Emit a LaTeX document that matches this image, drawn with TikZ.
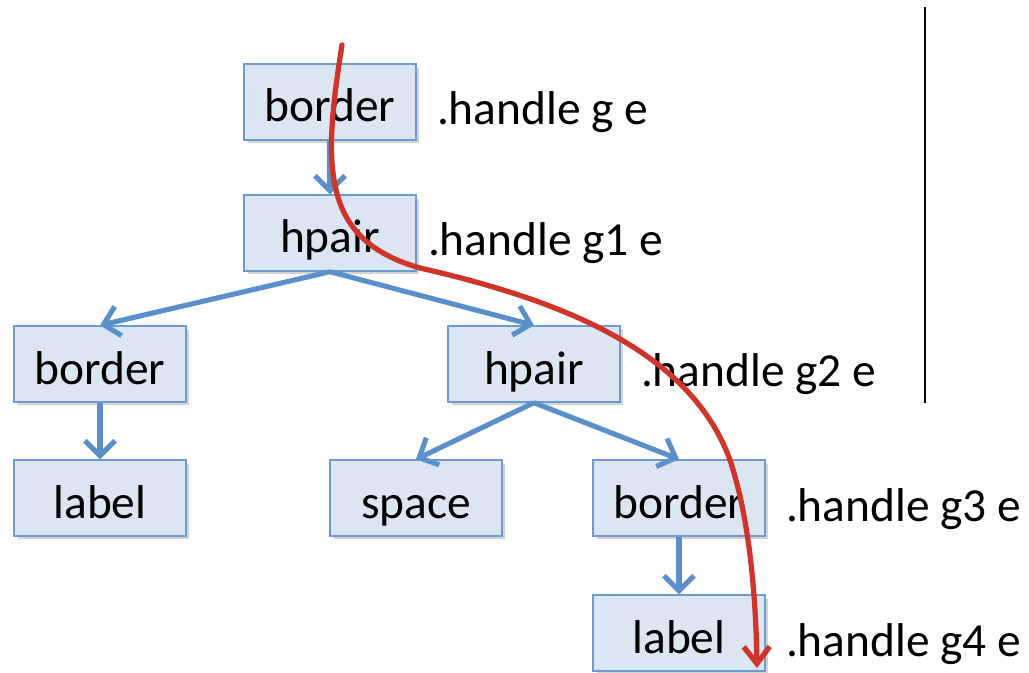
\documentclass[tikz,border=0pt]{standalone}
\usepackage{fontspec}
\setmainfont{Carlito}
\usetikzlibrary{arrows.meta,positioning,shadows}
\definecolor{boxfill}{HTML}{DCE6F2}
\definecolor{boxline}{HTML}{6C9BD2}
\definecolor{treeblue}{HTML}{5B8FC9}
\definecolor{tracered}{HTML}{D0352B}

\begin{document}
\begin{tikzpicture}[x=0.02cm, y=-0.02cm,
  font=\fontsize{27}{31}\selectfont,
  box/.style={draw=boxline, fill=boxfill, line width=0.8pt,
    minimum width=3.44cm, minimum height=1.52cm, inner sep=0pt,
    text height=0.8cm, text depth=0cm,
    drop shadow={shadow xshift=0.07cm, shadow yshift=-0.07cm, opacity=0.35}},
  handle/.style={anchor=west, inner sep=0pt, text height=0.92cm, text depth=0cm},
  tree/.style={treeblue, line width=2.9pt,
    -{Straight Barb[length=0.3cm, width=0.6cm]}},
  trace/.style={tracered, line width=3pt, line cap=round,
    -{Straight Barb[length=0.34cm, width=0.52cm]}}]
  \useasboundingbox (0,0) rectangle (1029,673);
  %% Tree nodes
  \node[box] (border0) at (330,102) {border};
  \node[box] (hpair1)  at (330,233) {hpair};
  \node[box] (border1) at (100,364) {border};
  \node[box] (hpair2)  at (534,364) {hpair};
  \node[box] (label1)  at (100,498) {label};
  \node[box] (space1)  at (416,498) {space};
  \node[box] (border3) at (679,498) {border};
  \node[box] (label4)  at (679,633) {label};
  %% Handle annotations
  \node[handle, right=0.4cm of border0] (hg)  {.handle g e};
  \node[handle, right=0.22cm of hpair1] (hg1) {.handle g1 e};
  \node[handle, right=0.4cm of hpair2]  (hg2) {.handle g2 e};
  \node[handle, right=0.4cm of border3] (hg3) {.handle g3 e};
  \node[handle, right=0.4cm of label4]  (hg4) {.handle g4 e};
  %% Tree edges
  \draw[tree] (border0) -- (hpair1);
  \draw[tree] (hpair1.south) -- (border1.north);
  \draw[tree] (hpair1.south) -- (hpair2.north);
  \draw[tree] (border1) -- (label1);
  \draw[tree] (hpair2.south) -- (space1.north);
  \draw[tree] (hpair2.south) -- (border3.north);
  \draw[tree] (border3) -- (label4);
  %% Evaluation trace
  \coordinate (ts) at (342,45);
  \coordinate (te) at (757,668);
  \draw[trace] (ts) .. controls (322,170) and (322,240) .. (420,268)
    .. controls (560,300) and (690,350) .. (730,460)
    .. controls (750,520) and (756,600) .. (te);
  %% Separator
  \coordinate (sepTop) at (925,7);
  \coordinate (sepBot) at (925,403);
  \draw[line width=0.7pt] (sepTop) -- (sepBot);
\end{tikzpicture}
\end{document}
